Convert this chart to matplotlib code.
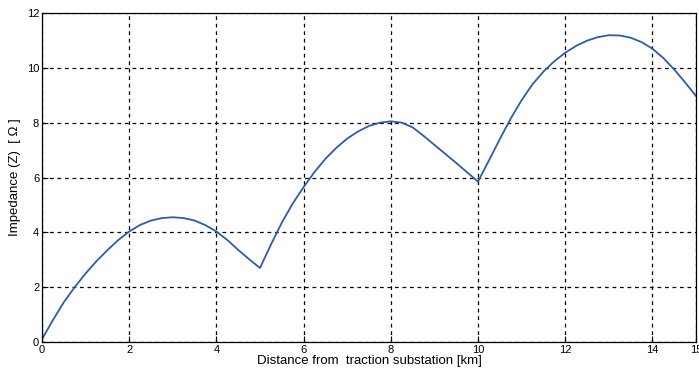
import matplotlib
matplotlib.use("Agg")
import matplotlib.pyplot as plt

distance_km = [
    0.00, 0.25, 0.50, 0.75, 1.00, 1.25, 1.50, 1.75, 2.00, 2.25, 2.50, 2.75,
    3.00, 3.25, 3.50, 3.75, 4.00, 4.25, 4.50, 4.75, 5.00,
    5.25, 5.50, 5.75, 6.00, 6.25, 6.50, 6.75, 7.00, 7.25, 7.50, 7.75,
    8.00, 8.25, 8.50, 8.75, 9.00, 9.25, 9.50, 9.75, 10.00,
    10.25, 10.50, 10.75, 11.00, 11.25, 11.50, 11.75, 12.00, 12.25, 12.50, 12.75,
    13.00, 13.25, 13.50, 13.75, 14.00, 14.25, 14.50, 14.75, 15.00,
]
impedance_ohm = [
    0.10, 0.80, 1.45, 2.00, 2.50, 2.95, 3.35, 3.72, 4.03, 4.27, 4.43, 4.52,
    4.55, 4.52, 4.43, 4.26, 4.03, 3.72, 3.36, 3.02, 2.70,
    3.55, 4.35, 5.05, 5.65, 6.20, 6.68, 7.08, 7.42, 7.68, 7.88, 8.00,
    8.05, 8.00, 7.83, 7.52, 7.19, 6.86, 6.53, 6.19, 5.85,
    6.62, 7.40, 8.15, 8.82, 9.40, 9.86, 10.24, 10.55, 10.80, 10.99, 11.12,
    11.19, 11.18, 11.10, 10.94, 10.70, 10.36, 9.94, 9.47, 8.97,
]
x_ticks = [0, 2, 4, 6, 8, 10, 12, 14, 15]
y_ticks = [0, 2, 4, 6, 8, 10, 12]

plt.rcParams['font.family'] = ['Liberation Sans', 'DejaVu Sans']

fig = plt.figure(figsize=(6.99, 3.75), dpi=100)
ax = fig.add_axes([42/699, 33/375, 654/699, 329/375])

ax.plot(distance_km, impedance_ohm, color='#2f5ba8', linewidth=1.3)

ax.set_xlim(0, 15)
ax.set_ylim(0, 12)
ax.set_xticks(x_ticks)
ax.set_yticks(y_ticks)
ax.set_xticklabels([str(t) for t in x_ticks])
ax.set_yticklabels([str(t) for t in y_ticks])
ax.tick_params(direction='in', length=4, width=0.8, labelsize=8, pad=2)
ax.grid(True, color='black', linestyle=(0, (3, 3)), linewidth=0.9)
for s in ax.spines.values():
    s.set_linewidth(0.9)

ax.set_xlabel('Distance from  traction substation [km]', fontsize=9.5, labelpad=0)
ax.set_ylabel('Impedance (Z)  [ Ω ]', fontsize=9.5, labelpad=4)

fig.savefig('out.png', dpi=100)
